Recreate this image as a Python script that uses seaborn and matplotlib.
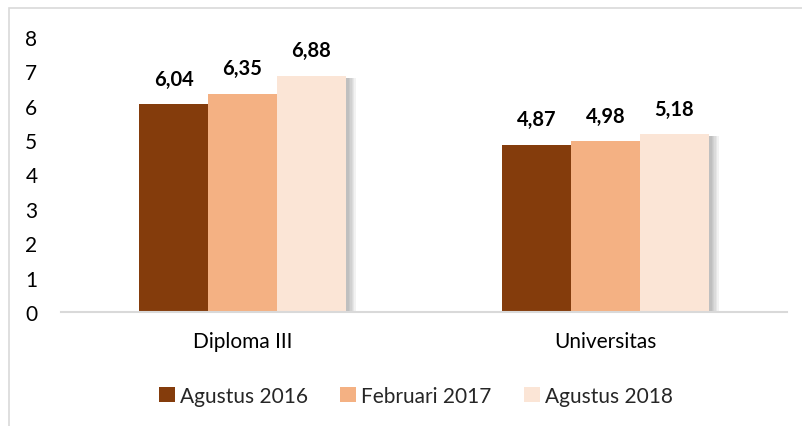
import matplotlib
matplotlib.use("Agg")
import matplotlib.pyplot as plt
import matplotlib.patheffects as pe
from matplotlib.patches import Rectangle, Patch
import pandas as pd
import seaborn as sns

categories = ["Diploma III", "Universitas"]
periods = ["Agustus 2016", "Februari 2017", "Agustus 2018"]
agustus_2016 = [6.04, 4.87]
februari_2017 = [6.35, 4.98]
agustus_2018 = [6.88, 5.18]
colors = ["#843C0C", "#F4B183", "#FBE5D6"]
y_ticks = [0, 1, 2, 3, 4, 5, 6, 7, 8]

rows = []
for period, values in zip(periods, [agustus_2016, februari_2017, agustus_2018]):
    for cat, v in zip(categories, values):
        rows.append({"Pendidikan": cat, "Periode": period, "Nilai": v})
df = pd.DataFrame(rows)

sns.set_theme(style="white")
plt.rcParams["font.family"] = ["Lato", "DejaVu Sans"]

fig = plt.figure(figsize=(8.03, 4.27), dpi=100)
ax = fig.add_axes([0.076, 0.267, 0.904, 0.644])

sns.barplot(data=df, x="Pendidikan", y="Nilai", hue="Periode",
            order=categories, hue_order=periods, palette=colors,
            width=0.57, ax=ax, legend=False, saturation=1,
            linewidth=0)

# soft drop shadow: stacked translucent copies, stronger near the bar
shadow = [pe.SimplePatchShadow(offset=(dx, -1.5), shadow_rgbFace="#6f6f6f", alpha=0.09)
          for dx in (7, 6, 5, 4, 3, 2)]
shadow.append(pe.Normal())
for container in ax.containers:
    for bar in container:
        bar.set_path_effects(shadow)
    ax.bar_label(container,
                 labels=[f"{v:.2f}".replace(".", ",") for v in container.datavalues],
                 padding=11, fontsize=14.5, fontweight="bold", color="#000000")

ax.set_ylim(0, 8)
ax.set_yticks(y_ticks)
ax.set_xlabel("")
ax.set_ylabel("")
for s in ["top", "right", "left"]:
    ax.spines[s].set_visible(False)
ax.spines["bottom"].set_color("#d9d9d9")
ax.spines["bottom"].set_linewidth(1.5)
ax.tick_params(axis="y", length=0, pad=17, labelsize=15, labelcolor="#000000")
ax.tick_params(axis="x", length=0, pad=14, labelsize=15, labelcolor="#000000")

fig.patches.append(Rectangle((9 / 803, -0.1), 1.0, (427 - 9) / 427 + 0.1,
                             transform=fig.transFigure, fill=False,
                             edgecolor="#d9d9d9", linewidth=1.2))

handles = [Patch(facecolor=c, edgecolor="none") for c in colors]
fig.legend(handles, periods, loc="center", bbox_to_anchor=(0.518, 1 - 397 / 427),
           ncol=3, frameon=False, fontsize=15, handlelength=0.75, handleheight=0.7,
           handletextpad=0.25, columnspacing=1.55)

fig.savefig("out.png", dpi=100)
